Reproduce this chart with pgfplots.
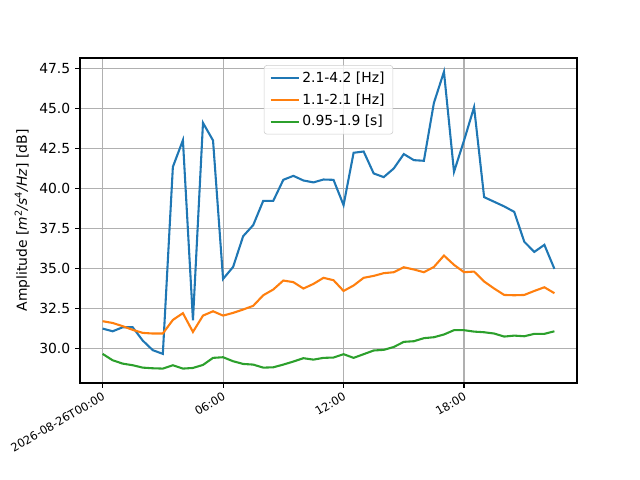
\documentclass[border=0pt]{standalone}
\usepackage{fontspec}
\setmainfont{DejaVu Sans}
\usepackage{pgfplots}
\usepackage{pgfplotstable}
\pgfplotsset{compat=1.18}
\definecolor{c0}{HTML}{1F77B4}
\definecolor{c1}{HTML}{FF7F0E}
\definecolor{c2}{HTML}{2CA02C}
\definecolor{gridc}{HTML}{B0B0B0}
\pgfplotstableread{
h b o g
0 31.25 31.71 29.67
0.5 31.08 31.60 29.27
1 31.33 31.40 29.06
1.5 31.33 31.17 28.96
2 30.50 30.98 28.81
2.5 29.90 30.94 28.77
3 29.67 30.94 28.75
3.5 41.35 31.79 28.96
4 43.02 32.21 28.75
4.5 31.77 31.04 28.79
5 44.10 32.06 28.98
5.5 43.00 32.33 29.42
6 34.35 32.06 29.46
6.5 35.10 32.23 29.21
7 37.02 32.44 29.04
7.5 37.71 32.67 29.00
8 39.23 33.33 28.81
8.5 39.23 33.69 28.83
9 40.54 34.25 29.00
9.5 40.79 34.15 29.19
10 40.50 33.75 29.40
10.5 40.38 34.04 29.31
11 40.56 34.42 29.42
11.5 40.54 34.27 29.44
12 38.96 33.60 29.65
12.5 42.23 33.94 29.42
13 42.31 34.42 29.65
13.5 40.94 34.54 29.88
14 40.71 34.71 29.92
14.5 41.25 34.77 30.10
15 42.15 35.08 30.42
15.5 41.77 34.94 30.46
16 41.73 34.77 30.65
16.5 45.35 35.10 30.71
17 47.29 35.81 30.88
17.5 41.04 35.23 31.15
18 43.00 34.77 31.15
18.5 45.08 34.81 31.06
19 39.46 34.19 31.02
19.5 39.17 33.75 30.94
20 38.88 33.35 30.75
20.5 38.54 33.33 30.81
21 36.67 33.35 30.77
21.5 36.04 33.60 30.92
22 36.48 33.83 30.92
22.5 34.98 33.46 31.08
}\data
\begin{document}
\begin{tikzpicture}
\path[use as bounding box] (-57.6pt,-69.84pt) rectangle (403.2pt,275.76pt);
\begin{axis}[
  at={(0,0)}, anchor=south west,
  scale only axis, width=357.84pt, height=234pt,
  xmin=-1.125, xmax=23.625, ymin=27.85, ymax=48.15,
  xtick={0,6,12,18},
  xticklabels={2026-08-26T00:00,06:00,12:00,18:00},
  ytick={30,32.5,35,37.5,40,42.5,45,47.5},
  yticklabel style={/pgf/number format/.cd, fixed, fixed zerofill, precision=1, assume math mode=true},
  xticklabel style={rotate=30, anchor=north east, font=\fontsize{8.2}{9}\selectfont, inner sep=2pt},
  tick label style={font=\fontsize{10}{12}\selectfont},
  xtick pos=left, ytick pos=left,
  tick align=outside,
  major tick length=3.5pt,
  every tick/.style={black, line width=0.8pt},
  axis line style={line width=0.8pt},
  grid=major,
  major grid style={gridc, line width=0.8pt},
  ylabel={Amplitude [\textit{m}\textsuperscript{2}\textit{/s}\textsuperscript{4}\textit{/Hz}] [dB]},
  label style={font=\fontsize{10}{12}\selectfont},
  legend style={at={(0.5,0.978)}, anchor=north, draw=black!20, rounded corners=2pt,
    fill=white, fill opacity=0.8, text opacity=1, font=\fontsize{10}{12}\selectfont,
    row sep=2.6pt, inner xsep=4pt, inner ysep=2.5pt},
  legend cell align=left,
  legend image code/.code={\draw[#1] (0pt,0pt) -- (20pt,0pt);},
]
\addplot[c0, line width=1.5pt] table[x=h, y=b] {\data};
\addlegendentry{2.1-4.2 [Hz]}
\addplot[c1, line width=1.5pt] table[x=h, y=o] {\data};
\addlegendentry{1.1-2.1 [Hz]}
\addplot[c2, line width=1.5pt] table[x=h, y=g] {\data};
\addlegendentry{0.95-1.9 [s]}
\end{axis}
\end{tikzpicture}
\end{document}
